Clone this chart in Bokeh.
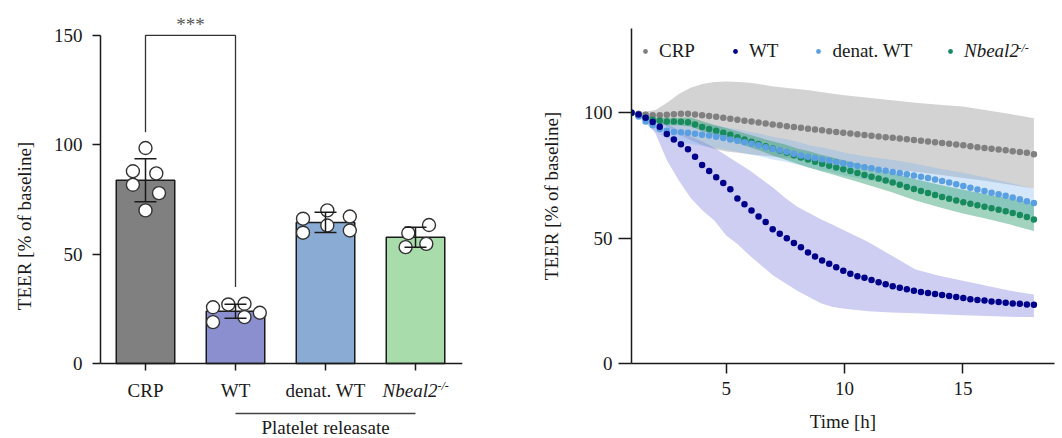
from bokeh.plotting import figure
from bokeh.layouts import row
from bokeh.models import (Range1d, FixedTicker, Whisker, TeeHead, ColumnDataSource,
                          Label, Legend, LegendItem)
from bokeh.core.properties import value
from bokeh.embed import file_html
from bokeh.resources import INLINE

FONT = "Liberation Serif"
FS = "19px"
INK = "#1a1a1a"

# ---------------- left panel data ----------------
categories = ["CRP", "WT", "denat. WT", "Nbeal2"]
bar_means = [83.8, 23.9, 64.5, 57.7]
bar_sd = [9.8, 3.2, 4.6, 4.6]
crp_points = [98.5, 87.9, 86.9, 81.7, 77.9, 70.0]
wt_points = [25.7, 27.0, 27.3, 23.2, 18.9, 21.2]
denat_points = [66.2, 70.0, 67.2, 63.1, 59.8, 60.8]
nbeal2_points = [63.3, 59.6, 54.7, 53.2]
sig_pair = [0, 1]
sig_heights = [105.7, 150.0, 35.0]
releasate_group = [1, 3]
y_ticks_left = [0, 50, 100, 150]

# ---------------- right panel data ----------------
times = [round(1 + 17 * i / 57, 3) for i in range(58)]
crp_mean = [100, 99.6, 99.2, 99.0, 99.0, 99.2, 99.4, 99.6, 99.6, 99.3, 99.0, 98.7, 98.4, 98.0,
            97.6, 97.2, 96.8, 96.5, 96.1, 95.7, 95.3, 95.0, 94.6, 94.3, 94.0, 93.6, 93.3, 93.0,
            92.6, 92.3, 92.0, 91.7, 91.4, 91.1, 90.8, 90.5, 90.2, 90.0, 89.7, 89.4, 89.1, 88.8,
            88.5, 88.2, 87.9, 87.6, 87.3, 87.0, 86.6, 86.2, 85.9, 85.6, 85.3, 85.0, 84.6, 84.3,
            84.0, 83.5]
wt_mean = [100, 99.3, 98.0, 96.3, 94.4, 91.5, 89.3, 87.4, 85.4, 82.5, 79.2, 76.8, 74.3, 72.0,
           69.5, 65.8, 63.5, 61.0, 58.6, 56.4, 53.5, 51.7, 50.0, 48.1, 46.4, 44.3, 42.7, 41.1,
           39.8, 38.4, 37.0, 35.8, 34.8, 34.2, 33.3, 32.4, 31.6, 30.8, 30.2, 29.6, 29.0, 28.5,
           28.1, 27.7, 27.3, 26.9, 26.5, 26.1, 25.6, 25.3, 25.1, 24.7, 24.5, 24.2, 23.9, 23.8,
           23.5, 23.4]
denat_mean = [100, 98.5, 96.5, 95.0, 93.5, 92.8, 92.3, 92.2, 92.0, 91.6, 91.2, 90.9, 90.4, 89.9,
              89.3, 88.8, 88.2, 87.6, 87.0, 86.2, 85.5, 85.0, 84.4, 83.6, 83.0, 82.5, 82.0, 81.5,
              81.0, 80.4, 79.9, 79.3, 78.8, 78.3, 77.9, 77.3, 76.9, 76.4, 76.0, 75.5, 75.0, 74.5,
              74.0, 73.4, 72.8, 72.2, 71.5, 70.8, 70.1, 69.4, 68.8, 68.1, 67.5, 66.9, 66.2, 65.5,
              64.7, 64.0]
nbeal2_mean = [100, 99.0, 98.0, 97.2, 96.8, 96.5, 96.5, 96.4, 96.2, 95.3, 94.3, 93.5, 92.8, 92.0,
               91.2, 90.2, 89.3, 88.4, 87.5, 86.6, 85.7, 84.8, 84.0, 83.1, 82.2, 81.4, 80.5, 79.7,
               78.9, 78.2, 77.5, 76.8, 76.0, 75.2, 74.5, 73.8, 73.0, 72.2, 71.3, 70.4, 69.6, 68.8,
               68.0, 67.2, 66.4, 65.7, 65.0, 64.3, 63.7, 63.1, 62.5, 61.9, 61.3, 60.7, 60.0, 59.2,
               58.4, 57.4]

band_t = [1, 1.5, 2, 2.5, 3, 3.5, 4, 4.5, 5, 5.5, 6, 6.5, 7, 7.5, 8, 8.5, 9, 9.5, 10,
          11, 12, 13, 14, 15, 16, 17, 18]
crp_upper = [100, 100.5, 101, 104, 107.5, 110, 111.5, 112.3, 112.5, 112.3, 112, 111.3, 110.5,
             110, 109.5, 109, 108.3, 107.6, 107, 106, 105, 104, 103.2, 102.5, 101, 99.5, 97.8]
crp_lower = [100, 98.5, 97, 94.5, 91.5, 89, 87, 85.5, 84.5, 84, 83.5, 83, 82.5, 82, 81.5, 81,
             80.5, 79.8, 79.2, 78.2, 77.3, 76.5, 75.3, 74, 72.8, 71.3, 69.8]
wt_upper = [100, 99.5, 98, 95.5, 93, 90.5, 88.5, 86, 83, 80, 77, 73.5, 70, 66, 62.5, 60, 57.5,
            55.3, 53, 48.5, 43, 37.5, 35, 33, 31, 29, 27.5]
wt_lower = [100, 97.5, 92, 81, 73, 66, 61, 57, 51, 47.5, 43, 39, 35, 32, 29, 26.5, 24, 22.5,
            21.8, 20.8, 20.3, 20, 19.6, 19.2, 18.9, 18.6, 18.5]
denat_upper = [100, 98.3, 96.5, 95.8, 96.2, 96.5, 95.7, 95.1, 94.1, 93.3, 92.4, 91.5, 90.3, 89.5,
               88.4, 87, 86.2, 85.2, 84, 82.5, 81.3, 79.7, 77.8, 76.1, 74.1, 72, 69.7]
denat_lower = [100, 96.3, 92.5, 89.8, 88.2, 87.5, 86.7, 86.1, 85.1, 84.3, 83.4, 82.5, 81.3, 80.5,
               79.4, 78, 77.2, 76.2, 75, 73.1, 71.5, 69.7, 67.4, 65.5, 63.1, 60.8, 58.3]
nbeal2_upper = [100, 98.8, 98, 98, 98, 98.1, 96.6, 95.1, 93.9, 92.5, 91.2, 89.8, 88.5, 87.3, 85.7,
                84.6, 83.3, 82.2, 81, 78.6, 76.1, 73.5, 71.3, 69.3, 67.5, 65.8, 64]
nbeal2_lower = [100, 97.8, 96, 95, 95, 94.5, 92.6, 91.1, 89.5, 87.9, 86.2, 84.6, 82.9, 81.3, 79.7,
                78.2, 76.7, 75.4, 74, 71.2, 68.3, 65, 62.3, 59.8, 57.7, 55.4, 52.8]
series_labels = ["CRP", "WT", "denat. WT", "Nbeal2"]
x_ticks_right = [5, 10, 15]
y_ticks_right = [0, 50, 100]

# ---------------- styles / layout (not data) ----------------
bar_colors = ["#808080", "#8b8fcf", "#8aacd4", "#a8dcaa"]
jitter = [[0.0, -0.14, 0.12, -0.14, 0.15, 0.0],
          [-0.25, -0.08, 0.1, 0.27, -0.25, 0.1],
          [-0.25, 0.02, 0.27, 0.02, -0.25, 0.27],
          [0.15, -0.08, 0.12, -0.11]]
dot_colors = ["#808080", "#00008b", "#5b9fe3", "#178a5e"]
band_colors = ["#d3d3d3", "#6a6ad8", "#78b4f0", "#2e9e6e"]
band_alphas = [1.0, 0.33, 0.32, 0.45]
PXU = 2.1875  # left panel: pixels per y unit


def style_axes(p):
    for ax in (p.xaxis, p.yaxis):
        ax.axis_line_color = INK
        ax.axis_line_width = 1.5
        ax.major_tick_line_color = INK
        ax.major_tick_line_width = 1.5
        ax.minor_tick_line_color = None
        ax.major_tick_in = 0
        ax.major_label_text_font = FONT
        ax.major_label_text_font_size = FS
        ax.major_label_text_color = INK
        ax.axis_label_text_font = FONT
        ax.axis_label_text_font_size = FS
        ax.axis_label_text_font_style = "normal"
        ax.axis_label_text_color = INK
    p.grid.visible = False
    p.outline_line_color = None


# ================= LEFT: bar chart =================
xpos = list(range(len(categories)))
p1 = figure(width=530, height=438, x_range=Range1d(-0.5, 3.611),
            y_range=Range1d(-75 / PXU, 160),
            output_backend="svg", toolbar_location=None, title_location=None,
            min_border_left=100, min_border_right=60, min_border_top=13, min_border_bottom=0)
p1.frame_align = False
style_axes(p1)
p1.xaxis.visible = False
p1.vbar(x=xpos, top=bar_means, width=0.65, fill_color=bar_colors, line_color=INK, line_width=1.5)

groups = [crp_points, wt_points, denat_points, nbeal2_points]
px, py = [], []
for i, (vals, js) in enumerate(zip(groups, jitter)):
    for v, j in zip(vals, js):
        px.append(i + j)
        py.append(v)
p1.scatter(px, py, size=13, fill_color="white", line_color="#333333", line_width=1.4)

err_src = ColumnDataSource(dict(x=xpos,
                                upper=[m + s for m, s in zip(bar_means, bar_sd)],
                                lower=[m - s for m, s in zip(bar_means, bar_sd)]))
whisk = Whisker(base="x", upper="upper", lower="lower", source=err_src, dimension="height",
                line_color=INK, line_width=1.5, level="annotation",
                upper_head=TeeHead(size=22, line_color=INK, line_width=1.5),
                lower_head=TeeHead(size=22, line_color=INK, line_width=1.5))
p1.add_layout(whisk)

a, b = sig_pair
p1.line([a, a, b, b], [sig_heights[0], sig_heights[1], sig_heights[1], sig_heights[2]],
        line_color="#333333", line_width=1.3)
p1.text(x=[(a + b) / 2], y=[sig_heights[1]], text=["***"], text_align="center",
        text_baseline="bottom", text_font=value(FONT), text_font_size=FS, text_color="#555555")

p1.yaxis.ticker = FixedTicker(ticks=y_ticks_left)
p1.yaxis.bounds = (0, 150)
p1.yaxis.major_tick_out = 8
p1.yaxis.major_label_standoff = 10
p1.yaxis.axis_label = "TEER [% of baseline]"
p1.yaxis.axis_label_standoff = 16

# category axis (line, ticks, labels) drawn at y = 0
p1.segment(x0=[-0.5], y0=[0], x1=[3.52], y1=[0], line_color=INK, line_width=1.5)
p1.segment(x0=xpos, y0=[0] * 4, x1=xpos, y1=[-7 / PXU] * 4, line_color=INK, line_width=1.5)
p1.text(x=xpos[:3], y=[0] * 3, text=categories[:3], y_offset=27, text_align="center",
        text_baseline="middle", text_font=value(FONT), text_font_size=FS, text_color=INK)
p1.text(x=[xpos[3]], y=[0], text=[categories[3]], x_offset=22, y_offset=27, text_align="right",
        text_baseline="middle", text_font=value(FONT), text_font_size=FS,
        text_font_style="italic", text_color=INK)
p1.text(x=[xpos[3]], y=[0], text=["-/-"], x_offset=22, y_offset=22, text_align="left",
        text_baseline="middle", text_font=value(FONT), text_font_size="12px",
        text_font_style="italic", text_color=INK)
# "Platelet releasate" grouping line and caption
g0, g1 = releasate_group
ry = -50 / PXU
p1.segment(x0=[g0], y0=[ry], x1=[g1], y1=[ry], line_color="#444444", line_width=1.3)
p1.text(x=[(g0 + g1) / 2], y=[0], text=["Platelet releasate"], y_offset=64, text_align="center",
        text_baseline="middle", text_font=value(FONT), text_font_size=FS, text_color=INK)

# ================= RIGHT: time course =================
p2 = figure(width=532, height=438, x_range=Range1d(1, 18.87), y_range=Range1d(0, 133.6),
            output_backend="svg", toolbar_location=None, title_location=None,
            min_border_left=101, min_border_right=8, min_border_top=28, min_border_bottom=75)
p2.frame_align = False
style_axes(p2)
bands = [(crp_lower, crp_upper), (wt_lower, wt_upper), (denat_lower, denat_upper),
         (nbeal2_lower, nbeal2_upper)]
for (lo, hi), c, al in zip(bands, band_colors, band_alphas):
    p2.varea(x=band_t, y1=lo, y2=hi, fill_color=c, fill_alpha=al)

means = [crp_mean, wt_mean, denat_mean, nbeal2_mean]
renderers = {}
for idx in [0, 3, 2, 1]:
    renderers[idx] = p2.scatter(times, means[idx], size=6.5, fill_color=dot_colors[idx],
                                line_color=None)

p2.xaxis.ticker = FixedTicker(ticks=x_ticks_right)
p2.yaxis.ticker = FixedTicker(ticks=y_ticks_right)
p2.xaxis.major_tick_out = 10
p2.xaxis.major_label_standoff = 8
p2.xaxis.axis_label = "Time [h]"
p2.xaxis.axis_label_standoff = 13
p2.yaxis.major_tick_out = 13
p2.yaxis.major_label_standoff = 6
p2.yaxis.axis_label = "TEER [% of baseline]"
p2.yaxis.axis_label_standoff = 19

leg_kw = dict(orientation="horizontal", spacing=34, padding=0, margin=0, glyph_width=12,
              glyph_height=22, label_height=22, label_standoff=8, label_text_font=FONT,
              label_text_font_size=FS, label_text_color=INK, border_line_color=None,
              background_fill_alpha=0)
leg1 = Legend(items=[LegendItem(label=series_labels[i], renderers=[renderers[i]]) for i in range(3)],
              location=(8, 301), **leg_kw)
leg2 = Legend(items=[LegendItem(label=series_labels[3], renderers=[renderers[3]])],
              location=(313, 301), label_text_font_style="italic", **leg_kw)
p2.add_layout(leg1)
p2.add_layout(leg2)
p2.add_layout(Label(x=386, y=316, x_units="screen", y_units="screen", text="-/-",
                    text_align="left", text_baseline="alphabetic", text_font=FONT,
                    text_font_size="12px", text_font_style="italic", text_color=INK))

layout = row(p1, p2)
open("out.html", "w").write(file_html(layout, INLINE))
